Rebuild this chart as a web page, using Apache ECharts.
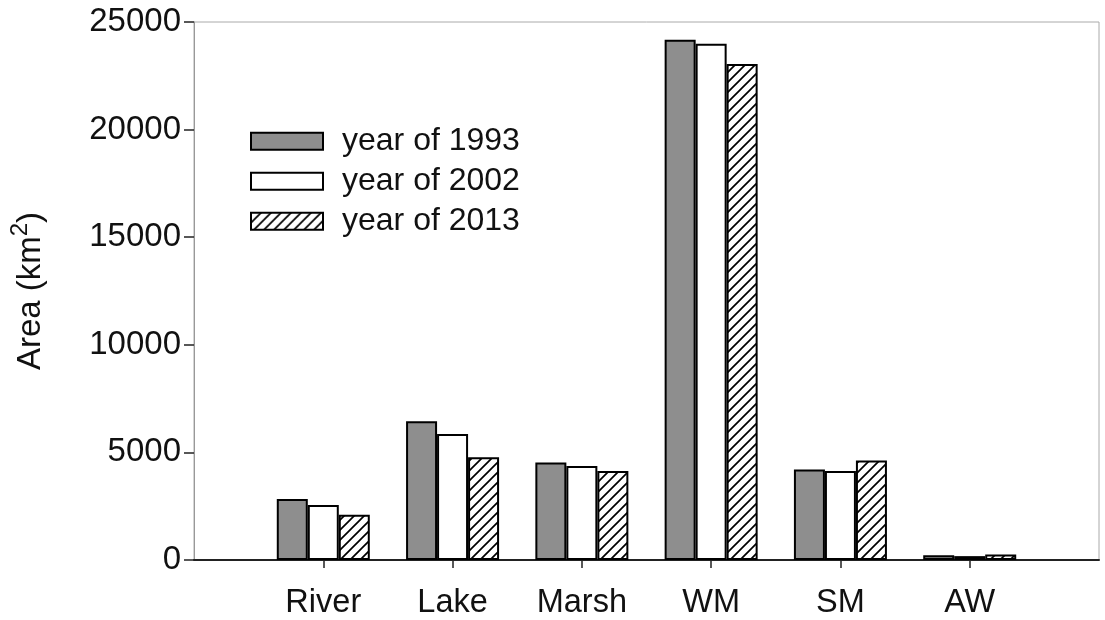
<!DOCTYPE html>
<html>
<head>
<meta charset="utf-8">
<script src="https://cdn.jsdelivr.net/npm/echarts@6/dist/echarts.min.js"></script>
<style>
html,body{margin:0;padding:0;background:#fff;}
#chart{width:1105px;height:620px;}
</style>
</head>
<body>
<div id="chart"></div>
<script>
const categories = ['River', 'Lake', 'Marsh', 'WM', 'SM', 'AW'];
const seriesNames = ['year of 1993', 'year of 2002', 'year of 2013'];
const y1993 = [2830, 6450, 4530, 24180, 4210, 220];
const y2002 = [2560, 5860, 4370, 23990, 4130, 180];
const y2013 = [2100, 4780, 4140, 23050, 4620, 260];

const FONT = '"Liberation Sans", Arial, sans-serif';

// hatch pattern
const pc = document.createElement('canvas');
const P = 10;
pc.width = P; pc.height = P;
const ctx = pc.getContext('2d');
ctx.fillStyle = '#fff';
ctx.fillRect(0, 0, P, P);
ctx.strokeStyle = '#000';
ctx.lineWidth = 1.7;
ctx.beginPath();
ctx.moveTo(-2, P + 2); ctx.lineTo(P + 2, -2);
ctx.moveTo(-2, 2); ctx.lineTo(2, -2);
ctx.moveTo(P - 2, P + 2); ctx.lineTo(P + 2, P - 2);
ctx.stroke();

const paddedCats = [''].concat(categories, ['']);
const pad = arr => [null].concat(arr, [null]);

const fills = ['#8e8e8e', '#ffffff', {image: pc, repeat: 'repeat'}];
const values = [y1993, y2002, y2013];

const chart = echarts.init(document.getElementById('chart'), null, {renderer: 'canvas'});
chart.setOption({
  animation: false,
  backgroundColor: '#fff',
  grid: {left: 193, top: 22, right: 6, bottom: 59, show: true, borderColor: '#aaa', borderWidth: 1, containLabel: false},
  legend: {
    orient: 'vertical',
    left: 250, top: 125,
    padding: 0,
    itemWidth: 72, itemHeight: 17,
    itemGap: 7.5,
    selectedMode: false,
    icon: 'rect',
    textStyle: {fontFamily: FONT, fontSize: 32, color: '#111', lineHeight: 32.5, padding: [0, 0, 0, 14]},
    data: seriesNames
  },
  xAxis: {
    type: 'category',
    data: paddedCats,
    boundaryGap: false,
    axisLine: {lineStyle: {color: '#222', width: 2}},
    axisTick: {show: true, length: 8, lineStyle: {color: '#222', width: 1.5}, interval: (i, v) => v !== ''},
    axisLabel: {fontFamily: FONT, fontSize: 32.5, color: '#111', margin: 27, interval: 0},
    splitLine: {show: false}
  },
  yAxis: {
    type: 'value',
    min: 0, max: 25000, interval: 5000,
    axisLine: {show: true, lineStyle: {color: '#999', width: 1}},
    axisTick: {show: true, length: 10, lineStyle: {color: '#222', width: 1.5}},
    axisLabel: {fontFamily: FONT, fontSize: 33, color: '#111', margin: 13, formatter: v => String(v)},
    splitLine: {show: false},
    name: '{a|Area (km}{s|2}{a|)}',
    nameLocation: 'middle',
    nameGap: 140,
    nameRotate: 90,
    nameTextStyle: {
      rich: {
        a: {fontFamily: FONT, fontSize: 33, color: '#111'},
        s: {fontFamily: FONT, fontSize: 24, color: '#111', padding: [0, 0, 22, 0]}
      }
    }
  },
  series: seriesNames.map((n, k) => ({
    name: n,
    type: 'bar',
    data: pad(values[k]),
    barWidth: 31,
    barGap: '0%',
    itemStyle: {color: fills[k], borderColor: '#000', borderWidth: 2}
  }))
});
</script>
</body>
</html>
